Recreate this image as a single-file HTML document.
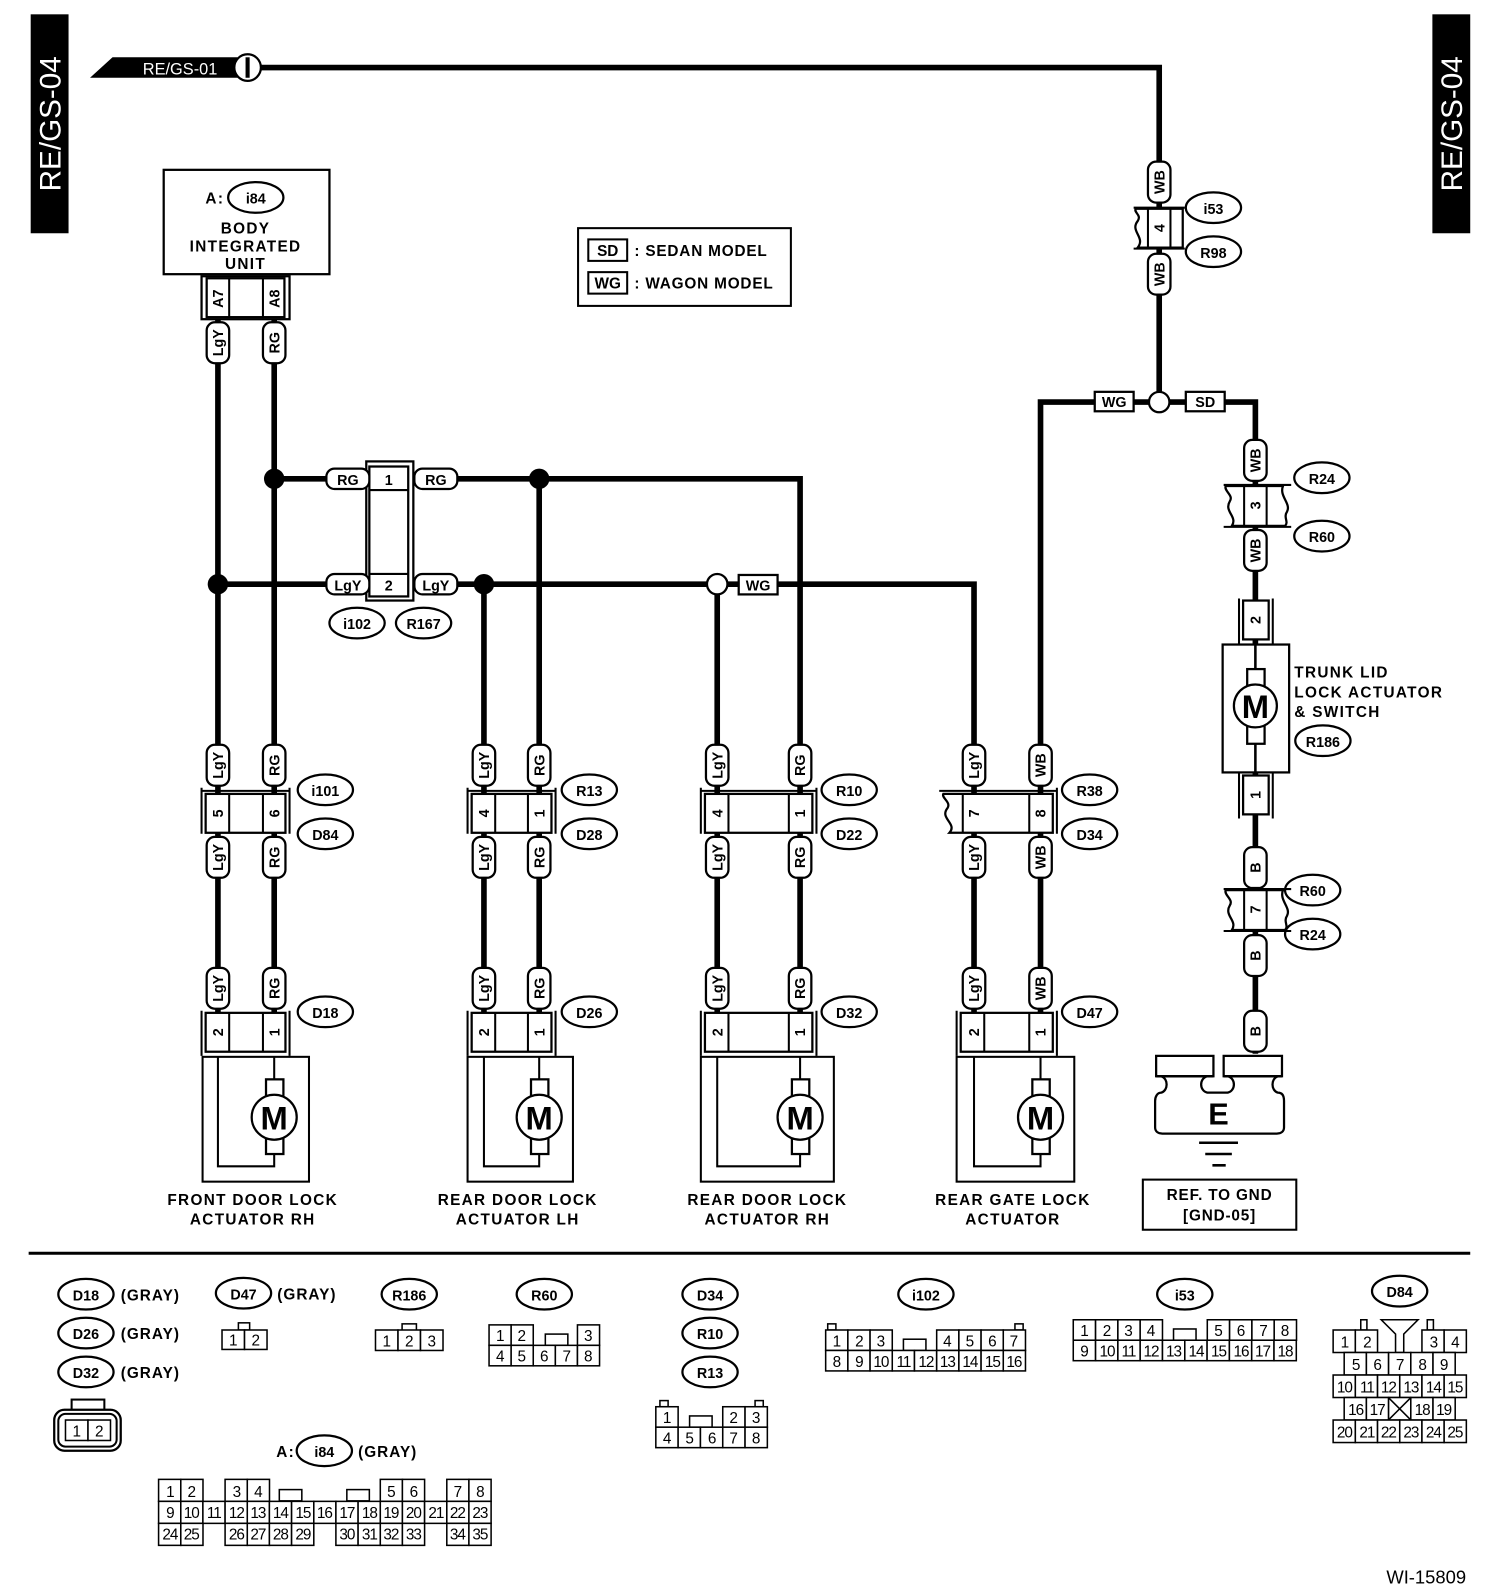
<!DOCTYPE html>
<html><head><meta charset="utf-8"><style>
html,body{margin:0;padding:0;background:#fff}
svg{display:block}
text{font-family:"Liberation Sans",sans-serif;font-weight:bold;fill:#000}
.w{fill:none;stroke:#000;stroke-width:5.5}
.o{fill:#fff;stroke:#000;stroke-width:2.2}
.ol{fill:none;stroke:#000;stroke-width:2}
.t{font-size:14px;text-anchor:middle}
.lb{font-size:15px;letter-spacing:1.3px;text-anchor:middle}
.c{font-size:15px;text-anchor:middle;font-weight:normal}
.cr{fill:#fff;stroke:#000;stroke-width:1.5}
</style></head><body>
<svg width="1504" height="1596" viewBox="0 0 1470 1560" preserveAspectRatio="none" xmlns="http://www.w3.org/2000/svg">
<rect width="1470" height="1560" fill="#fff"/>
<!-- side bars -->
<rect x="30" y="14" width="37" height="214" fill="#000"/>
<text transform="translate(59,121) rotate(-90)" style="font-size:29px;fill:#fff;text-anchor:middle;font-weight:normal">RE/GS-04</text>
<rect x="1400" y="14" width="37" height="214" fill="#000"/>
<text transform="translate(1429,121) rotate(-90)" style="font-size:29px;fill:#fff;text-anchor:middle;font-weight:normal">RE/GS-04</text>

<!-- top wire -->
<polygon points="88,76 110,56 232,56 232,76" fill="#000"/>
<text x="176" y="73" style="font-size:16px;fill:#fff;text-anchor:middle;font-weight:normal">RE/GS-01</text>
<polyline class="w" points="254,66 1133,66 1133,393"/>
<circle cx="242" cy="66" r="13" class="o" stroke-width="2.5"/>
<line x1="242" y1="56" x2="242" y2="76" stroke="#000" stroke-width="4"/>

<!-- wires main -->
<g class="w">
<line x1="213" y1="312" x2="213" y2="990"/>
<line x1="268" y1="312" x2="268" y2="990"/>
<polyline points="268,468 782,468 782,990"/>
<polyline points="213,571 952,571 952,990"/>
<line x1="473" y1="571" x2="473" y2="990"/>
<line x1="527" y1="468" x2="527" y2="990"/>
<line x1="701" y1="571" x2="701" y2="990"/>
<polyline points="1017,990 1017,393 1227,393 1227,640"/>
<line x1="1227" y1="755" x2="1227" y2="1030"/>
</g>
<circle cx="268" cy="468" r="10" fill="#000"/>
<circle cx="527" cy="468" r="10" fill="#000"/>
<circle cx="213" cy="571" r="10" fill="#000"/>
<circle cx="473" cy="571" r="10" fill="#000"/>
<circle cx="701" cy="571" r="10" class="o"/>
<circle cx="1133" cy="393" r="10" class="o"/>

<!-- body integrated unit -->
<rect x="160" y="166" width="162" height="102" class="o" stroke-width="2.5"/>
<text x="210" y="199" class="lb">A:</text>
<ellipse cx="250" cy="193" rx="27" ry="15" class="o" stroke-width="2.5"/>
<text x="250" y="199" class="t">i84</text>
<text x="240" y="228" class="lb">BODY</text>
<text x="240" y="246" class="lb">INTEGRATED</text>
<text x="240" y="263" class="lb">UNIT</text>
<rect x="197" y="270" width="86" height="42" class="o"/>
<rect x="202" y="272" width="76" height="38" class="o"/>
<line x1="224" y1="272" x2="224" y2="310" stroke="#000" stroke-width="2"/>
<line x1="257" y1="272" x2="257" y2="310" stroke="#000" stroke-width="2"/>
<text transform="translate(218,292) rotate(-90)" class="t">A7</text>
<text transform="translate(273,292) rotate(-90)" class="t">A8</text>

<!-- legend -->
<rect x="565" y="223" width="208" height="76" class="ol" stroke-width="2.5"/>
<rect x="575" y="234" width="38" height="21" class="ol"/>
<text x="594" y="250" class="t" style="font-size:15px">SD</text>
<text x="620" y="250" class="lb" style="text-anchor:start;letter-spacing:0.8px">: SEDAN MODEL</text>
<rect x="575" y="266" width="38" height="21" class="ol"/>
<text x="594" y="282" class="t" style="font-size:15px">WG</text>
<text x="620" y="282" class="lb" style="text-anchor:start;letter-spacing:0.8px">: WAGON MODEL</text>

<!-- i102 connector -->
<rect x="358" y="451" width="46" height="136" class="o" stroke-width="2"/>
<rect x="361" y="456" width="38" height="127" class="o" stroke-width="2"/>
<line x1="361" y1="479" x2="399" y2="479" stroke="#000" stroke-width="2"/>
<line x1="361" y1="561" x2="399" y2="561" stroke="#000" stroke-width="2"/>
<text x="380" y="474" class="t">1</text>
<text x="380" y="577" class="t">2</text>
<!-- horizontal pills -->
<g>
<rect x="319" y="458" width="42" height="20" rx="8" class="o"/><text x="340" y="474" class="t">RG</text>
<rect x="405" y="458" width="42" height="20" rx="8" class="o"/><text x="426" y="474" class="t">RG</text>
<rect x="319" y="561" width="42" height="20" rx="8" class="o"/><text x="340" y="577" class="t">LgY</text>
<rect x="405" y="561" width="42" height="20" rx="8" class="o"/><text x="426" y="577" class="t">LgY</text>
<rect x="722" y="562" width="38" height="19" class="o"/><text x="741" y="577" class="t">WG</text>
<rect x="1070" y="383" width="38" height="19" class="o"/><text x="1089" y="398" class="t">WG</text>
<rect x="1159" y="383" width="38" height="19" class="o"/><text x="1178" y="398" class="t">SD</text>
</g>
<ellipse cx="349" cy="609" rx="27" ry="15" class="o" stroke-width="2.5"/><text x="349" y="615" class="t">i102</text>
<ellipse cx="414" cy="609" rx="27" ry="15" class="o" stroke-width="2.5"/><text x="414" y="615" class="t">R167</text>

<!-- vertical pills -->
<g>
<rect x="202" y="315" width="22" height="40" rx="8" class="o"/><text transform="translate(218,335) rotate(-90)" class="t">LgY</text>
<rect x="257" y="315" width="22" height="40" rx="8" class="o"/><text transform="translate(273,335) rotate(-90)" class="t">RG</text>
</g>
<!-- columns -->
<g id="pills">
<rect x="202" y="728" width="22" height="40" rx="8" class="o"/><text transform="translate(218,748) rotate(-90)" class="t">LgY</text>
<rect x="257" y="728" width="22" height="40" rx="8" class="o"/><text transform="translate(273,748) rotate(-90)" class="t">RG</text>
<rect x="202" y="818" width="22" height="40" rx="8" class="o"/><text transform="translate(218,838) rotate(-90)" class="t">LgY</text>
<rect x="257" y="818" width="22" height="40" rx="8" class="o"/><text transform="translate(273,838) rotate(-90)" class="t">RG</text>
<rect x="202" y="946" width="22" height="40" rx="8" class="o"/><text transform="translate(218,966) rotate(-90)" class="t">LgY</text>
<rect x="257" y="946" width="22" height="40" rx="8" class="o"/><text transform="translate(273,966) rotate(-90)" class="t">RG</text>

<rect x="462" y="728" width="22" height="40" rx="8" class="o"/><text transform="translate(478,748) rotate(-90)" class="t">LgY</text>
<rect x="516" y="728" width="22" height="40" rx="8" class="o"/><text transform="translate(532,748) rotate(-90)" class="t">RG</text>
<rect x="462" y="818" width="22" height="40" rx="8" class="o"/><text transform="translate(478,838) rotate(-90)" class="t">LgY</text>
<rect x="516" y="818" width="22" height="40" rx="8" class="o"/><text transform="translate(532,838) rotate(-90)" class="t">RG</text>
<rect x="462" y="946" width="22" height="40" rx="8" class="o"/><text transform="translate(478,966) rotate(-90)" class="t">LgY</text>
<rect x="516" y="946" width="22" height="40" rx="8" class="o"/><text transform="translate(532,966) rotate(-90)" class="t">RG</text>

<rect x="690" y="728" width="22" height="40" rx="8" class="o"/><text transform="translate(706,748) rotate(-90)" class="t">LgY</text>
<rect x="771" y="728" width="22" height="40" rx="8" class="o"/><text transform="translate(787,748) rotate(-90)" class="t">RG</text>
<rect x="690" y="818" width="22" height="40" rx="8" class="o"/><text transform="translate(706,838) rotate(-90)" class="t">LgY</text>
<rect x="771" y="818" width="22" height="40" rx="8" class="o"/><text transform="translate(787,838) rotate(-90)" class="t">RG</text>
<rect x="690" y="946" width="22" height="40" rx="8" class="o"/><text transform="translate(706,966) rotate(-90)" class="t">LgY</text>
<rect x="771" y="946" width="22" height="40" rx="8" class="o"/><text transform="translate(787,966) rotate(-90)" class="t">RG</text>

<rect x="941" y="728" width="22" height="40" rx="8" class="o"/><text transform="translate(957,748) rotate(-90)" class="t">LgY</text>
<rect x="1006" y="728" width="22" height="40" rx="8" class="o"/><text transform="translate(1022,748) rotate(-90)" class="t">WB</text>
<rect x="941" y="818" width="22" height="40" rx="8" class="o"/><text transform="translate(957,838) rotate(-90)" class="t">LgY</text>
<rect x="1006" y="818" width="22" height="40" rx="8" class="o"/><text transform="translate(1022,838) rotate(-90)" class="t">WB</text>
<rect x="941" y="946" width="22" height="40" rx="8" class="o"/><text transform="translate(957,966) rotate(-90)" class="t">LgY</text>
<rect x="1006" y="946" width="22" height="40" rx="8" class="o"/><text transform="translate(1022,966) rotate(-90)" class="t">WB</text>

<rect x="1122" y="158" width="22" height="40" rx="8" class="o"/><text transform="translate(1138,178) rotate(-90)" class="t">WB</text>
<rect x="1122" y="248" width="22" height="40" rx="8" class="o"/><text transform="translate(1138,268) rotate(-90)" class="t">WB</text>
<rect x="1216" y="430" width="22" height="40" rx="8" class="o"/><text transform="translate(1232,450) rotate(-90)" class="t">WB</text>
<rect x="1216" y="518" width="22" height="40" rx="8" class="o"/><text transform="translate(1232,538) rotate(-90)" class="t">WB</text>
<rect x="1216" y="828" width="22" height="40" rx="8" class="o"/><text transform="translate(1232,848) rotate(-90)" class="t">B</text>
<rect x="1216" y="914" width="22" height="40" rx="8" class="o"/><text transform="translate(1232,934) rotate(-90)" class="t">B</text>
<rect x="1216" y="988" width="22" height="40" rx="8" class="o"/><text transform="translate(1232,1008) rotate(-90)" class="t">B</text>
</g>

<!-- inline connectors row 795 -->
<g>
<path d="M197,770 V815 M283,770 V815 M197,773 H283" class="ol"/>
<rect x="201" y="776" width="78" height="38" class="o"/><line x1="224" y1="776" x2="224" y2="814" stroke="#000" stroke-width="2"/><line x1="257" y1="776" x2="257" y2="814" stroke="#000" stroke-width="2"/>
<text transform="translate(218,795) rotate(-90)" class="t">5</text><text transform="translate(273,795) rotate(-90)" class="t">6</text>

<path d="M457,770 V815 M543,770 V815 M457,773 H543" class="ol"/>
<rect x="461" y="776" width="78" height="38" class="o"/><line x1="484" y1="776" x2="484" y2="814" stroke="#000" stroke-width="2"/><line x1="516" y1="776" x2="516" y2="814" stroke="#000" stroke-width="2"/>
<text transform="translate(478,795) rotate(-90)" class="t">4</text><text transform="translate(532,795) rotate(-90)" class="t">1</text>

<path d="M685,770 V815 M798,770 V815 M685,773 H798" class="ol"/>
<rect x="689" y="776" width="105" height="38" class="o"/><line x1="712" y1="776" x2="712" y2="814" stroke="#000" stroke-width="2"/><line x1="771" y1="776" x2="771" y2="814" stroke="#000" stroke-width="2"/>
<text transform="translate(706,795) rotate(-90)" class="t">4</text><text transform="translate(787,795) rotate(-90)" class="t">1</text>

<path d="M918,773 H1033 V815 M1033,773 V770" class="ol"/>
<path d="M922,776 H1029 V814 H928 C936,805 918,800 926,790 C930,784 920,780 922,776 Z" class="o"/>
<line x1="941" y1="776" x2="941" y2="814" stroke="#000" stroke-width="2"/><line x1="1006" y1="776" x2="1006" y2="814" stroke="#000" stroke-width="2"/>
<text transform="translate(957,795) rotate(-90)" class="t">7</text><text transform="translate(1022,795) rotate(-90)" class="t">8</text>
</g>
<!-- ovals row -->
<g>
<ellipse cx="318" cy="772" rx="27" ry="15" class="o" stroke-width="2.5"/><text x="318" y="778" class="t">i101</text>
<ellipse cx="318" cy="815" rx="27" ry="15" class="o" stroke-width="2.5"/><text x="318" y="821" class="t">D84</text>
<ellipse cx="576" cy="772" rx="27" ry="15" class="o" stroke-width="2.5"/><text x="576" y="778" class="t">R13</text>
<ellipse cx="576" cy="815" rx="27" ry="15" class="o" stroke-width="2.5"/><text x="576" y="821" class="t">D28</text>
<ellipse cx="830" cy="772" rx="27" ry="15" class="o" stroke-width="2.5"/><text x="830" y="778" class="t">R10</text>
<ellipse cx="830" cy="815" rx="27" ry="15" class="o" stroke-width="2.5"/><text x="830" y="821" class="t">D22</text>
<ellipse cx="1065" cy="772" rx="27" ry="15" class="o" stroke-width="2.5"/><text x="1065" y="778" class="t">R38</text>
<ellipse cx="1065" cy="815" rx="27" ry="15" class="o" stroke-width="2.5"/><text x="1065" y="821" class="t">D34</text>
<ellipse cx="318" cy="989" rx="27" ry="15" class="o" stroke-width="2.5"/><text x="318" y="995" class="t">D18</text>
<ellipse cx="576" cy="989" rx="27" ry="15" class="o" stroke-width="2.5"/><text x="576" y="995" class="t">D26</text>
<ellipse cx="830" cy="989" rx="27" ry="15" class="o" stroke-width="2.5"/><text x="830" y="995" class="t">D32</text>
<ellipse cx="1065" cy="989" rx="27" ry="15" class="o" stroke-width="2.5"/><text x="1065" y="995" class="t">D47</text>
<ellipse cx="1186" cy="203" rx="27" ry="15" class="o" stroke-width="2.5"/><text x="1186" y="209" class="t">i53</text>
<ellipse cx="1186" cy="246" rx="27" ry="15" class="o" stroke-width="2.5"/><text x="1186" y="252" class="t">R98</text>
<ellipse cx="1292" cy="467" rx="27" ry="15" class="o" stroke-width="2.5"/><text x="1292" y="473" class="t">R24</text>
<ellipse cx="1292" cy="524" rx="27" ry="15" class="o" stroke-width="2.5"/><text x="1292" y="530" class="t">R60</text>
<ellipse cx="1293" cy="724" rx="27" ry="15" class="o" stroke-width="2.5"/><text x="1293" y="730" class="t">R186</text>
<ellipse cx="1283" cy="870" rx="27" ry="15" class="o" stroke-width="2.5"/><text x="1283" y="876" class="t">R60</text>
<ellipse cx="1283" cy="913" rx="27" ry="15" class="o" stroke-width="2.5"/><text x="1283" y="919" class="t">R24</text>
</g>

<!-- actuators -->
<g>
<path d="M197,988 V1032 M283,988 V1032" class="ol"/>
<rect x="201" y="990" width="78" height="38" class="o"/><line x1="224" y1="990" x2="224" y2="1028" stroke="#000" stroke-width="2"/><line x1="257" y1="990" x2="257" y2="1028" stroke="#000" stroke-width="2"/>
<text transform="translate(218,1009) rotate(-90)" class="t">2</text><text transform="translate(273,1009) rotate(-90)" class="t">1</text>
<rect x="198" y="1033" width="104" height="122" class="ol" stroke-width="2.5"/>
<path d="M213,1033 V1140 H268 V1128 M268,1033 V1055" class="ol" stroke-width="2.5"/>
<rect x="260" y="1055" width="17" height="73" class="o"/>
<circle cx="268" cy="1092" r="22" class="o" stroke-width="2.5"/><text x="268" y="1104" style="font-size:32px;text-anchor:middle">M</text>

<path d="M457,988 V1032 M543,988 V1032" class="ol"/>
<rect x="461" y="990" width="78" height="38" class="o"/><line x1="484" y1="990" x2="484" y2="1028" stroke="#000" stroke-width="2"/><line x1="516" y1="990" x2="516" y2="1028" stroke="#000" stroke-width="2"/>
<text transform="translate(478,1009) rotate(-90)" class="t">2</text><text transform="translate(532,1009) rotate(-90)" class="t">1</text>
<rect x="457" y="1033" width="103" height="122" class="ol" stroke-width="2.5"/>
<path d="M473,1033 V1140 H527 V1128 M527,1033 V1055" class="ol" stroke-width="2.5"/>
<rect x="519" y="1055" width="17" height="73" class="o"/>
<circle cx="527" cy="1092" r="22" class="o" stroke-width="2.5"/><text x="527" y="1104" style="font-size:32px;text-anchor:middle">M</text>

<path d="M685,988 V1032 M798,988 V1032" class="ol"/>
<rect x="689" y="990" width="105" height="38" class="o"/><line x1="712" y1="990" x2="712" y2="1028" stroke="#000" stroke-width="2"/><line x1="771" y1="990" x2="771" y2="1028" stroke="#000" stroke-width="2"/>
<text transform="translate(706,1009) rotate(-90)" class="t">2</text><text transform="translate(787,1009) rotate(-90)" class="t">1</text>
<rect x="685" y="1033" width="130" height="122" class="ol" stroke-width="2.5"/>
<path d="M701,1033 V1140 H782 V1128 M782,1033 V1055" class="ol" stroke-width="2.5"/>
<rect x="774" y="1055" width="17" height="73" class="o"/>
<circle cx="782" cy="1092" r="22" class="o" stroke-width="2.5"/><text x="782" y="1104" style="font-size:32px;text-anchor:middle">M</text>

<path d="M935,988 V1032 M1033,988 V1032" class="ol"/>
<rect x="939" y="990" width="90" height="38" class="o"/><line x1="962" y1="990" x2="962" y2="1028" stroke="#000" stroke-width="2"/><line x1="1006" y1="990" x2="1006" y2="1028" stroke="#000" stroke-width="2"/>
<text transform="translate(957,1009) rotate(-90)" class="t">2</text><text transform="translate(1022,1009) rotate(-90)" class="t">1</text>
<rect x="935" y="1033" width="115" height="122" class="ol" stroke-width="2.5"/>
<path d="M952,1033 V1140 H1017 V1128 M1017,1033 V1055" class="ol" stroke-width="2.5"/>
<rect x="1009" y="1055" width="17" height="73" class="o"/>
<circle cx="1017" cy="1092" r="22" class="o" stroke-width="2.5"/><text x="1017" y="1104" style="font-size:32px;text-anchor:middle">M</text>
</g>
<text x="247" y="1178" class="lb">FRONT DOOR LOCK</text><text x="247" y="1197" class="lb">ACTUATOR RH</text>
<text x="506" y="1178" class="lb">REAR DOOR LOCK</text><text x="506" y="1197" class="lb">ACTUATOR LH</text>
<text x="750" y="1178" class="lb">REAR DOOR LOCK</text><text x="750" y="1197" class="lb">ACTUATOR RH</text>
<text x="990" y="1178" class="lb">REAR GATE  LOCK</text><text x="990" y="1197" class="lb">ACTUATOR</text>

<!-- i53/R98 connector -->
<path d="M1108,203 H1158 M1108,243 H1158" class="ol"/>
<path d="M1110,204 H1156 V242 H1112 C1120,232 1104,226 1112,216 C1116,210 1108,208 1110,204 Z" class="o"/>
<line x1="1122" y1="204" x2="1122" y2="242" stroke="#000" stroke-width="2"/><line x1="1144" y1="204" x2="1144" y2="242" stroke="#000" stroke-width="2"/>
<text transform="translate(1138,223) rotate(-90)" class="t">4</text>

<!-- R24/R60 connector 3 -->
<path d="M1196,474 H1262 M1196,515 H1262" class="ol"/>
<path d="M1198,475 H1254 C1250,485 1262,492 1258,500 C1254,506 1260,510 1256,514 H1204 C1210,505 1196,500 1202,490 C1206,484 1196,480 1198,475 Z" class="o"/>
<line x1="1216" y1="475" x2="1216" y2="514" stroke="#000" stroke-width="2"/><line x1="1238" y1="475" x2="1238" y2="514" stroke="#000" stroke-width="2"/>
<text transform="translate(1232,494) rotate(-90)" class="t">3</text>
<!-- connector 7 -->
<path d="M1196,869 H1262 M1196,910 H1262" class="ol"/>
<path d="M1198,870 H1254 C1250,880 1262,887 1258,895 C1254,901 1260,905 1256,909 H1204 C1210,900 1196,895 1202,885 C1206,879 1196,875 1198,870 Z" class="o"/>
<line x1="1216" y1="870" x2="1216" y2="909" stroke="#000" stroke-width="2"/><line x1="1238" y1="870" x2="1238" y2="909" stroke="#000" stroke-width="2"/>
<text transform="translate(1232,889) rotate(-90)" class="t">7</text>

<!-- trunk actuator -->
<path d="M1211,585 V630 M1244,585 V630 M1211,755 V800 M1244,755 V800" class="ol"/>
<rect x="1215" y="587" width="25" height="38" class="o"/><text transform="translate(1232,606) rotate(-90)" class="t">2</text>
<rect x="1215" y="758" width="25" height="38" class="o"/><text transform="translate(1232,777) rotate(-90)" class="t">1</text>
<rect x="1195" y="630" width="65" height="125" class="o" stroke-width="2.5"/>
<line x1="1227" y1="630" x2="1227" y2="755" stroke="#000" stroke-width="2.5"/>
<rect x="1219" y="654" width="17" height="73" class="o"/>
<circle cx="1227" cy="690" r="21" class="o" stroke-width="2.5"/><text x="1227" y="702" style="font-size:32px;text-anchor:middle">M</text>
<text x="1265" y="662" class="lb" style="text-anchor:start">TRUNK LID</text>
<text x="1265" y="682" class="lb" style="text-anchor:start">LOCK ACTUATOR</text>
<text x="1265" y="701" class="lb" style="text-anchor:start">&amp; SWITCH</text>

<!-- ground -->
<path d="M1130,1032 H1186 V1052 H1180 C1172,1054 1172,1066 1180,1068 H1200 C1208,1066 1208,1054 1200,1052 H1196 V1032 H1253 V1052 H1249 C1242,1054 1242,1066 1249,1068 C1254,1068 1255,1072 1255,1076 V1102 C1255,1106 1252,1108 1248,1108 H1136 C1132,1108 1129,1106 1129,1102 V1076 C1129,1072 1131,1068 1135,1068 C1142,1066 1142,1054 1135,1052 H1130 Z" class="o" stroke-width="2.5"/>
<line x1="1130" y1="1052" x2="1186" y2="1052" stroke="#000" stroke-width="2.5"/>
<line x1="1196" y1="1052" x2="1253" y2="1052" stroke="#000" stroke-width="2.5"/>
<text x="1191" y="1099" style="font-size:30px;text-anchor:middle">E</text>
<path d="M1172,1117 H1210 M1178,1128 H1204 M1185,1139 H1198" stroke="#000" stroke-width="2.5"/>
<rect x="1117" y="1153" width="150" height="49" class="ol" stroke-width="2.5"/>
<text x="1192" y="1173" class="lb" style="letter-spacing:0.8px">REF. TO GND</text>
<text x="1192" y="1193" class="lb" style="letter-spacing:0.8px">[GND-05]</text>

<!-- separator -->
<line x1="28" y1="1225" x2="1437" y2="1225" stroke="#000" stroke-width="3"/>

<!-- bottom connector labels -->
<g>
<ellipse cx="84" cy="1265" rx="27" ry="15" class="o" stroke-width="2.5"/><text x="84" y="1271" class="t">D18</text><text x="118" y="1271" class="lb" style="text-anchor:start;letter-spacing:1px">(GRAY)</text>
<ellipse cx="84" cy="1303" rx="27" ry="15" class="o" stroke-width="2.5"/><text x="84" y="1309" class="t">D26</text><text x="118" y="1309" class="lb" style="text-anchor:start;letter-spacing:1px">(GRAY)</text>
<ellipse cx="84" cy="1341" rx="27" ry="15" class="o" stroke-width="2.5"/><text x="84" y="1347" class="t">D32</text><text x="118" y="1347" class="lb" style="text-anchor:start;letter-spacing:1px">(GRAY)</text>
<ellipse cx="238" cy="1264" rx="27" ry="15" class="o" stroke-width="2.5"/><text x="238" y="1270" class="t">D47</text><text x="271" y="1270" class="lb" style="text-anchor:start;letter-spacing:1px">(GRAY)</text>
<ellipse cx="400" cy="1265" rx="27" ry="15" class="o" stroke-width="2.5"/><text x="400" y="1271" class="t">R186</text>
<ellipse cx="532" cy="1265" rx="27" ry="15" class="o" stroke-width="2.5"/><text x="532" y="1271" class="t">R60</text>
<ellipse cx="694" cy="1265" rx="27" ry="15" class="o" stroke-width="2.5"/><text x="694" y="1271" class="t">D34</text>
<ellipse cx="694" cy="1303" rx="27" ry="15" class="o" stroke-width="2.5"/><text x="694" y="1309" class="t">R10</text>
<ellipse cx="694" cy="1341" rx="27" ry="15" class="o" stroke-width="2.5"/><text x="694" y="1347" class="t">R13</text>
<ellipse cx="905" cy="1265" rx="27" ry="15" class="o" stroke-width="2.5"/><text x="905" y="1271" class="t">i102</text>
<ellipse cx="1158" cy="1265" rx="27" ry="15" class="o" stroke-width="2.5"/><text x="1158" y="1271" class="t">i53</text>
<ellipse cx="1368" cy="1262" rx="27" ry="15" class="o" stroke-width="2.5"/><text x="1368" y="1268" class="t">D84</text>
<text x="270" y="1424" class="lb" style="text-anchor:start">A:</text>
<ellipse cx="317" cy="1418" rx="27" ry="15" class="o" stroke-width="2.5"/><text x="317" y="1424" class="t">i84</text>
<text x="350" y="1424" class="lb" style="text-anchor:start;letter-spacing:1px">(GRAY)</text>
</g>

<!-- D18 small connector -->
<rect x="70" y="1368" width="32" height="12" class="ol" stroke-width="1.5"/>
<rect x="53" y="1378" width="65" height="40" rx="10" class="o" stroke-width="1.5"/>
<rect x="57" y="1382" width="57" height="32" rx="7" class="ol" stroke-width="1.5"/>
<rect x="64" y="1388" width="22" height="20" class="cr"/><text x="75" y="1404" class="c">1</text>
<rect x="86" y="1388" width="22" height="20" class="cr"/><text x="97" y="1404" class="c">2</text>

<!-- D47 -->
<rect x="233" y="1293" width="11" height="7" class="cr" stroke-width="1"/>
<rect x="217" y="1300" width="22" height="19" class="cr" stroke-width="1"/><text x="228" y="1315" class="c">1</text>
<rect x="239" y="1300" width="22" height="19" class="cr" stroke-width="1"/><text x="250" y="1315" class="c">2</text>
<!-- R186 -->
<rect x="393" y="1294" width="14" height="7" class="cr"/>
<rect x="367" y="1300" width="22" height="20" class="cr"/><text x="378" y="1316" class="c">1</text>
<rect x="389" y="1300" width="22" height="20" class="cr"/><text x="400" y="1316" class="c">2</text>
<rect x="411" y="1300" width="22" height="20" class="cr"/><text x="422" y="1316" class="c">3</text>

<!-- R60 -->
<g>
<rect x="478" y="1295" width="21.6" height="20" class="cr"/><text x="489" y="1311" class="c">1</text>
<rect x="499.6" y="1295" width="21.6" height="20" class="cr"/><text x="510" y="1311" class="c">2</text>
<rect x="533" y="1304" width="22" height="11" class="cr"/>
<rect x="564.4" y="1295" width="21.6" height="20" class="cr"/><text x="575" y="1311" class="c">3</text>
<rect x="478" y="1315" width="21.6" height="20" class="cr"/><text x="489" y="1331" class="c">4</text>
<rect x="499.6" y="1315" width="21.6" height="20" class="cr"/><text x="510" y="1331" class="c">5</text>
<rect x="521.2" y="1315" width="21.6" height="20" class="cr"/><text x="532" y="1331" class="c">6</text>
<rect x="542.8" y="1315" width="21.6" height="20" class="cr"/><text x="554" y="1331" class="c">7</text>
<rect x="564.4" y="1315" width="21.6" height="20" class="cr"/><text x="575" y="1331" class="c">8</text>
</g>
<!-- D34 R10 R13 -->
<g>
<rect x="645" y="1369" width="8" height="6" class="cr" stroke-width="1"/><rect x="738" y="1369" width="8" height="6" class="cr" stroke-width="1"/>
<rect x="641" y="1375" width="21.8" height="20" class="cr"/><text x="652" y="1391" class="c">1</text>
<rect x="674" y="1384" width="22" height="11" class="cr"/>
<rect x="706.4" y="1375" width="21.8" height="20" class="cr"/><text x="717" y="1391" class="c">2</text>
<rect x="728.2" y="1375" width="21.8" height="20" class="cr"/><text x="739" y="1391" class="c">3</text>
<rect x="641" y="1395" width="21.8" height="20" class="cr"/><text x="652" y="1411" class="c">4</text>
<rect x="662.8" y="1395" width="21.8" height="20" class="cr"/><text x="674" y="1411" class="c">5</text>
<rect x="684.6" y="1395" width="21.8" height="20" class="cr"/><text x="696" y="1411" class="c">6</text>
<rect x="706.4" y="1395" width="21.8" height="20" class="cr"/><text x="717" y="1411" class="c">7</text>
<rect x="728.2" y="1395" width="21.8" height="20" class="cr"/><text x="739" y="1411" class="c">8</text>
</g>
<!-- i102 -->
<g>
<rect x="809" y="1294" width="8" height="6" class="cr" stroke-width="1"/><rect x="992" y="1294" width="8" height="6" class="cr" stroke-width="1"/>
<rect x="807" y="1300" width="21.7" height="20" class="cr"/><text x="818" y="1316" class="c">1</text>
<rect x="828.7" y="1300" width="21.7" height="20" class="cr"/><text x="840" y="1316" class="c">2</text>
<rect x="850.4" y="1300" width="21.7" height="20" class="cr"/><text x="861" y="1316" class="c">3</text>
<rect x="883" y="1309" width="22" height="11" class="cr"/>
<rect x="915.5" y="1300" width="21.7" height="20" class="cr"/><text x="926" y="1316" class="c">4</text>
<rect x="937.2" y="1300" width="21.7" height="20" class="cr"/><text x="948" y="1316" class="c">5</text>
<rect x="958.9" y="1300" width="21.7" height="20" class="cr"/><text x="970" y="1316" class="c">6</text>
<rect x="980.6" y="1300" width="21.7" height="20" class="cr"/><text x="991" y="1316" class="c">7</text>
<rect x="807" y="1320" width="21.7" height="20" class="cr"/><text x="818" y="1336" class="c">8</text>
<rect x="828.7" y="1320" width="21.7" height="20" class="cr"/><text x="840" y="1336" class="c">9</text>
<rect x="850.4" y="1320" width="21.7" height="20" class="cr"/><text x="861" y="1336" class="c" style="letter-spacing:-1px">10</text>
<rect x="872.1" y="1320" width="21.7" height="20" class="cr"/><text x="883" y="1336" class="c" style="letter-spacing:-1px">11</text>
<rect x="893.8" y="1320" width="21.7" height="20" class="cr"/><text x="905" y="1336" class="c" style="letter-spacing:-1px">12</text>
<rect x="915.5" y="1320" width="21.7" height="20" class="cr"/><text x="926" y="1336" class="c" style="letter-spacing:-1px">13</text>
<rect x="937.2" y="1320" width="21.7" height="20" class="cr"/><text x="948" y="1336" class="c" style="letter-spacing:-1px">14</text>
<rect x="958.9" y="1320" width="21.7" height="20" class="cr"/><text x="970" y="1336" class="c" style="letter-spacing:-1px">15</text>
<rect x="980.6" y="1320" width="21.7" height="20" class="cr"/><text x="991" y="1336" class="c" style="letter-spacing:-1px">16</text>
</g>
<!-- i53 -->
<g>
<rect x="1049" y="1290" width="21.8" height="20" class="cr"/><text x="1060" y="1306" class="c">1</text>
<rect x="1070.8" y="1290" width="21.8" height="20" class="cr"/><text x="1082" y="1306" class="c">2</text>
<rect x="1092.6" y="1290" width="21.8" height="20" class="cr"/><text x="1103" y="1306" class="c">3</text>
<rect x="1114.4" y="1290" width="21.8" height="20" class="cr"/><text x="1125" y="1306" class="c">4</text>
<rect x="1147" y="1299" width="22" height="11" class="cr"/>
<rect x="1180" y="1290" width="21.8" height="20" class="cr"/><text x="1191" y="1306" class="c">5</text>
<rect x="1201.8" y="1290" width="21.8" height="20" class="cr"/><text x="1213" y="1306" class="c">6</text>
<rect x="1223.6" y="1290" width="21.8" height="20" class="cr"/><text x="1235" y="1306" class="c">7</text>
<rect x="1245.4" y="1290" width="21.8" height="20" class="cr"/><text x="1256" y="1306" class="c">8</text>
<rect x="1049" y="1310" width="21.8" height="20" class="cr"/><text x="1060" y="1326" class="c">9</text>
<rect x="1070.8" y="1310" width="21.8" height="20" class="cr"/><text x="1082" y="1326" class="c" style="letter-spacing:-1px">10</text>
<rect x="1092.6" y="1310" width="21.8" height="20" class="cr"/><text x="1103" y="1326" class="c" style="letter-spacing:-1px">11</text>
<rect x="1114.4" y="1310" width="21.8" height="20" class="cr"/><text x="1125" y="1326" class="c" style="letter-spacing:-1px">12</text>
<rect x="1136.2" y="1310" width="21.8" height="20" class="cr"/><text x="1147" y="1326" class="c" style="letter-spacing:-1px">13</text>
<rect x="1158" y="1310" width="21.8" height="20" class="cr"/><text x="1169" y="1326" class="c" style="letter-spacing:-1px">14</text>
<rect x="1179.8" y="1310" width="21.8" height="20" class="cr"/><text x="1191" y="1326" class="c" style="letter-spacing:-1px">15</text>
<rect x="1201.6" y="1310" width="21.8" height="20" class="cr"/><text x="1213" y="1326" class="c" style="letter-spacing:-1px">16</text>
<rect x="1223.4" y="1310" width="21.8" height="20" class="cr"/><text x="1234" y="1326" class="c" style="letter-spacing:-1px">17</text>
<rect x="1245.2" y="1310" width="21.8" height="20" class="cr"/><text x="1256" y="1326" class="c" style="letter-spacing:-1px">18</text>
</g>
<!-- D84 -->
<g style="letter-spacing:-1px">
<rect x="1330" y="1290" width="6" height="10" class="cr" stroke-width="1"/><rect x="1395" y="1290" width="6" height="10" class="cr" stroke-width="1"/>
<polygon points="1350,1290 1386,1290 1372,1304 1372,1322 1364,1322 1364,1304" class="cr"/>
<rect x="1303" y="1300" width="21.7" height="22" class="cr"/><text x="1314" y="1317" class="c">1</text>
<rect x="1324.7" y="1300" width="21.7" height="22" class="cr"/><text x="1336" y="1317" class="c">2</text>
<rect x="1389.8" y="1300" width="21.7" height="22" class="cr"/><text x="1401" y="1317" class="c">3</text>
<rect x="1411.5" y="1300" width="21.7" height="22" class="cr"/><text x="1422" y="1317" class="c">4</text>
<rect x="1313.8" y="1322" width="21.7" height="22" class="cr"/><text x="1325" y="1339" class="c">5</text>
<rect x="1335.5" y="1322" width="21.7" height="22" class="cr"/><text x="1346" y="1339" class="c">6</text>
<rect x="1357.2" y="1322" width="21.7" height="22" class="cr"/><text x="1368" y="1339" class="c">7</text>
<rect x="1378.9" y="1322" width="21.7" height="22" class="cr"/><text x="1390" y="1339" class="c">8</text>
<rect x="1400.6" y="1322" width="21.7" height="22" class="cr"/><text x="1411" y="1339" class="c">9</text>
<rect x="1303" y="1344" width="21.7" height="22" class="cr"/><text x="1314" y="1361" class="c">10</text>
<rect x="1324.7" y="1344" width="21.7" height="22" class="cr"/><text x="1336" y="1361" class="c">11</text>
<rect x="1346.4" y="1344" width="21.7" height="22" class="cr"/><text x="1357" y="1361" class="c">12</text>
<rect x="1368.1" y="1344" width="21.7" height="22" class="cr"/><text x="1379" y="1361" class="c">13</text>
<rect x="1389.8" y="1344" width="21.7" height="22" class="cr"/><text x="1401" y="1361" class="c">14</text>
<rect x="1411.5" y="1344" width="21.7" height="22" class="cr"/><text x="1422" y="1361" class="c">15</text>
<rect x="1313.8" y="1366" width="21.7" height="22" class="cr"/><text x="1325" y="1383" class="c">16</text>
<rect x="1335.5" y="1366" width="21.7" height="22" class="cr"/><text x="1346" y="1383" class="c">17</text>
<rect x="1357.2" y="1366" width="21.7" height="22" class="cr"/><path d="M1357,1366 L1379,1388 M1379,1366 L1357,1388" stroke="#000" stroke-width="1.5"/>
<rect x="1378.9" y="1366" width="21.7" height="22" class="cr"/><text x="1390" y="1383" class="c">18</text>
<rect x="1400.6" y="1366" width="21.7" height="22" class="cr"/><text x="1411" y="1383" class="c">19</text>
<rect x="1303" y="1388" width="21.7" height="22" class="cr"/><text x="1314" y="1405" class="c">20</text>
<rect x="1324.7" y="1388" width="21.7" height="22" class="cr"/><text x="1336" y="1405" class="c">21</text>
<rect x="1346.4" y="1388" width="21.7" height="22" class="cr"/><text x="1357" y="1405" class="c">22</text>
<rect x="1368.1" y="1388" width="21.7" height="22" class="cr"/><text x="1379" y="1405" class="c">23</text>
<rect x="1389.8" y="1388" width="21.7" height="22" class="cr"/><text x="1401" y="1405" class="c">24</text>
<rect x="1411.5" y="1388" width="21.7" height="22" class="cr"/><text x="1422" y="1405" class="c">25</text>
</g>
<!-- i84 big -->
<g style="letter-spacing:-1px">
<rect x="273" y="1456" width="22" height="11" class="cr"/><rect x="339" y="1456" width="22" height="11" class="cr"/>
<rect x="155" y="1446" width="21.7" height="21.5" class="cr"/><text x="166" y="1463" class="c">1</text>
<rect x="176.7" y="1446" width="21.7" height="21.5" class="cr"/><text x="187" y="1463" class="c">2</text>
<rect x="220" y="1446" width="21.7" height="21.5" class="cr"/><text x="231" y="1463" class="c">3</text>
<rect x="241.7" y="1446" width="21.7" height="21.5" class="cr"/><text x="252" y="1463" class="c">4</text>
<rect x="371.7" y="1446" width="21.7" height="21.5" class="cr"/><text x="382" y="1463" class="c">5</text>
<rect x="393.3" y="1446" width="21.7" height="21.5" class="cr"/><text x="404" y="1463" class="c">6</text>
<rect x="436.7" y="1446" width="21.7" height="21.5" class="cr"/><text x="447" y="1463" class="c">7</text>
<rect x="458.3" y="1446" width="21.7" height="21.5" class="cr"/><text x="469" y="1463" class="c">8</text>

<rect x="155" y="1467.5" width="21.7" height="21.5" class="cr"/><text x="166" y="1484" class="c">9</text>
<rect x="176.7" y="1467.5" width="21.7" height="21.5" class="cr"/><text x="187" y="1484" class="c">10</text>
<rect x="198.3" y="1467.5" width="21.7" height="21.5" class="cr"/><text x="209" y="1484" class="c">11</text>
<rect x="220" y="1467.5" width="21.7" height="21.5" class="cr"/><text x="231" y="1484" class="c">12</text>
<rect x="241.7" y="1467.5" width="21.7" height="21.5" class="cr"/><text x="252" y="1484" class="c">13</text>
<rect x="263.3" y="1467.5" width="21.7" height="21.5" class="cr"/><text x="274" y="1484" class="c">14</text>
<rect x="285" y="1467.5" width="21.7" height="21.5" class="cr"/><text x="296" y="1484" class="c">15</text>
<rect x="306.7" y="1467.5" width="21.7" height="21.5" class="cr"/><text x="317" y="1484" class="c">16</text>
<rect x="328.3" y="1467.5" width="21.7" height="21.5" class="cr"/><text x="339" y="1484" class="c">17</text>
<rect x="350" y="1467.5" width="21.7" height="21.5" class="cr"/><text x="361" y="1484" class="c">18</text>
<rect x="371.7" y="1467.5" width="21.7" height="21.5" class="cr"/><text x="382" y="1484" class="c">19</text>
<rect x="393.3" y="1467.5" width="21.7" height="21.5" class="cr"/><text x="404" y="1484" class="c">20</text>
<rect x="415" y="1467.5" width="21.7" height="21.5" class="cr"/><text x="426" y="1484" class="c">21</text>
<rect x="436.7" y="1467.5" width="21.7" height="21.5" class="cr"/><text x="447" y="1484" class="c">22</text>
<rect x="458.3" y="1467.5" width="21.7" height="21.5" class="cr"/><text x="469" y="1484" class="c">23</text>

<rect x="155" y="1489" width="21.7" height="21.5" class="cr"/><text x="166" y="1505" class="c">24</text>
<rect x="176.7" y="1489" width="21.7" height="21.5" class="cr"/><text x="187" y="1505" class="c">25</text>
<rect x="220" y="1489" width="21.7" height="21.5" class="cr"/><text x="231" y="1505" class="c">26</text>
<rect x="241.7" y="1489" width="21.7" height="21.5" class="cr"/><text x="252" y="1505" class="c">27</text>
<rect x="263.3" y="1489" width="21.7" height="21.5" class="cr"/><text x="274" y="1505" class="c">28</text>
<rect x="285" y="1489" width="21.7" height="21.5" class="cr"/><text x="296" y="1505" class="c">29</text>
<rect x="328.3" y="1489" width="21.7" height="21.5" class="cr"/><text x="339" y="1505" class="c">30</text>
<rect x="350" y="1489" width="21.7" height="21.5" class="cr"/><text x="361" y="1505" class="c">31</text>
<rect x="371.7" y="1489" width="21.7" height="21.5" class="cr"/><text x="382" y="1505" class="c">32</text>
<rect x="393.3" y="1489" width="21.7" height="21.5" class="cr"/><text x="404" y="1505" class="c">33</text>
<rect x="436.7" y="1489" width="21.7" height="21.5" class="cr"/><text x="447" y="1505" class="c">34</text>
<rect x="458.3" y="1489" width="21.7" height="21.5" class="cr"/><text x="469" y="1505" class="c">35</text>
</g>

<text x="1433" y="1548" style="font-size:18px;font-weight:normal;text-anchor:end">WI-15809</text>
</svg>
</body></html>
